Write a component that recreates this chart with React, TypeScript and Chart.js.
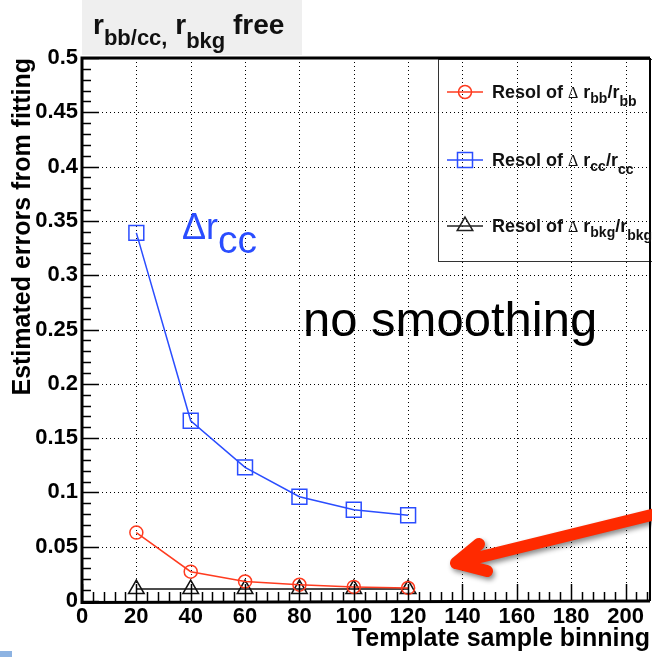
import React, { useEffect, useRef } from 'react';
import { Chart, registerables } from 'chart.js';

Chart.register(...registerables);

// ---- data ----
const binning = [20, 40, 60, 80, 100, 120];
const resolBB = [0.063, 0.027, 0.018, 0.015, 0.013, 0.012];
const resolCC = [0.339, 0.166, 0.123, 0.096, 0.084, 0.079];
const resolBkg = [0.011, 0.011, 0.011, 0.011, 0.011, 0.011];

const xTicks = [0, 20, 40, 60, 80, 100, 120, 140, 160, 180, 200];
const xMinorStep = 4;
const yTicks = [0, 0.05, 0.1, 0.15, 0.2, 0.25, 0.3, 0.35, 0.4, 0.45, 0.5];
const yTickLabels = ['0', '0.05', '0.1', '0.15', '0.2', '0.25', '0.3', '0.35', '0.4', '0.45', '0.5'];
const yMinorStep = 0.01;
const X_MIN = 0;
const X_MAX = 209;
const Y_MIN = 0;
const Y_MAX = 0.5;

const xTitle = 'Template sample binning';
const yTitle = 'Estimated errors from fitting';

const RED = '#ff3b1f';
const BLUE = '#2a4dff';
const BLACK = '#111111';
const SANS = '"Liberation Sans", Arial, Helvetica, sans-serif';

type Part = { t: string; size: number; bold?: boolean; family?: string; dy?: number };

const titleParts: Part[] = [
  { t: 'r', size: 28, bold: true },
  { t: 'bb/cc,', size: 22, bold: true, dy: 11 },
  { t: ' r', size: 28, bold: true },
  { t: 'bkg', size: 22, bold: true, dy: 14 },
  { t: ' free', size: 28, bold: true },
];

const legendEntries: { color: string; marker: string; parts: Part[] }[] = [
  {
    color: RED,
    marker: 'circle',
    parts: [
      { t: 'Resol of ', size: 18, bold: true },
      { t: 'Δ', size: 16, family: '"Liberation Serif", serif' },
      { t: ' r', size: 18, bold: true },
      { t: 'bb', size: 14, bold: true, dy: 5 },
      { t: '/r', size: 18, bold: true },
      { t: 'bb', size: 14, bold: true, dy: 8 },
    ],
  },
  {
    color: BLUE,
    marker: 'rect',
    parts: [
      { t: 'Resol of ', size: 18, bold: true },
      { t: 'Δ', size: 16, family: '"Liberation Serif", serif' },
      { t: ' r', size: 18, bold: true },
      { t: 'cc', size: 14, bold: true, dy: 5 },
      { t: '/r', size: 18, bold: true },
      { t: 'cc', size: 14, bold: true, dy: 8 },
    ],
  },
  {
    color: '#222222',
    marker: 'triangle',
    parts: [
      { t: 'Resol of ', size: 18, bold: true },
      { t: 'Δ', size: 16, family: '"Liberation Serif", serif' },
      { t: ' r', size: 18, bold: true },
      { t: 'bkg', size: 14, bold: true, dy: 5 },
      { t: '/r', size: 18, bold: true },
      { t: 'bkg', size: 14, bold: true, dy: 8 },
    ],
  },
];

const ccLabel: Part[] = [
  { t: 'Δr', size: 36 },
  { t: 'cc', size: 39, dy: 14 },
];
const noteText = 'no smoothing';

function drawRich(ctx: CanvasRenderingContext2D, parts: Part[], x: number, y: number, color: string) {
  let cx = x;
  ctx.textAlign = 'left';
  ctx.textBaseline = 'alphabetic';
  ctx.fillStyle = color;
  for (const p of parts) {
    ctx.font = `${p.bold ? 'bold ' : ''}${p.size}px ${p.family || SANS}`;
    ctx.fillText(p.t, cx, y + (p.dy || 0));
    cx += ctx.measureText(p.t).width;
  }
}

function drawMarker(ctx: CanvasRenderingContext2D, kind: string, x: number, y: number, color: string) {
  ctx.strokeStyle = color;
  ctx.lineWidth = 1.5;
  ctx.beginPath();
  if (kind === 'circle') {
    ctx.arc(x, y, 6.5, 0, Math.PI * 2);
  } else if (kind === 'rect') {
    ctx.rect(x - 7.5, y - 7.5, 15, 15);
  } else {
    const r = 9;
    ctx.moveTo(x, y - r);
    ctx.lineTo(x + r * Math.cos(Math.PI / 6), y + r / 2);
    ctx.lineTo(x - r * Math.cos(Math.PI / 6), y + r / 2);
    ctx.closePath();
  }
  ctx.stroke();
}

const decoPlugin = {
  id: 'deco',
  beforeDraw(chart: any) {
    const ctx = chart.ctx as CanvasRenderingContext2D;
    ctx.save();
    ctx.fillStyle = '#ffffff';
    ctx.fillRect(0, 0, chart.width, chart.height);
    // title box
    ctx.fillStyle = '#efefef';
    ctx.fillRect(82, 0, 220, 55);
    drawRich(ctx, titleParts, 93, 34, '#111');
    // slide decoration
    ctx.fillStyle = '#8db3e2';
    ctx.fillRect(0, 651, 12, 6);
    ctx.restore();
  },
  beforeDatasetsDraw(chart: any) {
    const ctx = chart.ctx as CanvasRenderingContext2D;
    const a = chart.chartArea;
    const x = chart.scales.x;
    const y = chart.scales.y;
    ctx.save();
    // legend box
    ctx.strokeStyle = '#333';
    ctx.lineWidth = 1;
    ctx.strokeRect(438.5, 59.5, 240, 202);
    // dotted grid
    ctx.setLineDash([1, 3]);
    ctx.strokeStyle = '#000';
    ctx.lineWidth = 1;
    ctx.beginPath();
    xTicks.forEach((v) => {
      if (v === X_MIN) return;
      const px = Math.round(x.getPixelForValue(v)) + 0.5;
      ctx.moveTo(px, a.top);
      ctx.lineTo(px, a.bottom);
    });
    yTicks.forEach((v) => {
      if (v === Y_MIN || v === Y_MAX) return;
      const py = Math.round(y.getPixelForValue(v)) + 0.5;
      ctx.moveTo(a.left, py);
      ctx.lineTo(a.right, py);
    });
    ctx.stroke();
    ctx.restore();
  },
  afterDatasetsDraw(chart: any) {
    const ctx = chart.ctx as CanvasRenderingContext2D;
    const a = chart.chartArea;
    const x = chart.scales.x;
    const y = chart.scales.y;
    ctx.save();
    // frame
    ctx.strokeStyle = '#000';
    ctx.lineWidth = 3;
    ctx.beginPath();
    ctx.moveTo(a.left, a.top);
    ctx.lineTo(a.right, a.top);
    ctx.moveTo(a.left, a.top - 1.5);
    ctx.lineTo(a.left, a.bottom + 1.5);
    ctx.lineTo(a.right, a.bottom);
    ctx.stroke();
    ctx.lineWidth = 2;
    ctx.beginPath();
    ctx.moveTo(a.right, a.top);
    ctx.lineTo(a.right, a.bottom);
    ctx.stroke();
    // inward ticks
    ctx.lineWidth = 1.5;
    ctx.beginPath();
    for (let v = X_MIN; v <= X_MAX + 1e-9; v += xMinorStep) {
      const major = Math.abs(v % 20) < 1e-9;
      const px = Math.round(x.getPixelForValue(v)) + 0.5;
      ctx.moveTo(px, a.bottom);
      ctx.lineTo(px, a.bottom - (major ? 17 : 9));
    }
    for (let i = 0; i * yMinorStep <= Y_MAX + 1e-9; i++) {
      const v = i * yMinorStep;
      const major = i % 5 === 0;
      const py = Math.round(y.getPixelForValue(v)) + 0.5;
      ctx.moveTo(a.left, py);
      ctx.lineTo(a.left + (major ? 17 : 9), py);
    }
    ctx.stroke();

    // legend entries
    const legendY = [92, 160, 226];
    legendEntries.forEach((e, i) => {
      const ly = legendY[i];
      ctx.strokeStyle = e.color;
      ctx.lineWidth = 1.5;
      ctx.setLineDash([]);
      ctx.beginPath();
      ctx.moveTo(447, ly);
      ctx.lineTo(483, ly);
      ctx.stroke();
      drawMarker(ctx, e.marker, 465, ly, e.color);
      drawRich(ctx, e.parts, 492, ly + 6, '#111');
    });

    // annotations
    drawRich(ctx, ccLabel, 182, 239, BLUE);
    ctx.font = `49px ${SANS}`;
    ctx.fillStyle = '#000';
    ctx.textAlign = 'left';
    ctx.textBaseline = 'alphabetic';
    ctx.fillText(noteText, 303, 336);

    // red arrow
    ctx.shadowColor = 'rgba(0,0,0,0.45)';
    ctx.shadowBlur = 5;
    ctx.shadowOffsetX = 2;
    ctx.shadowOffsetY = 3;
    ctx.strokeStyle = '#ff2a00';
    ctx.lineWidth = 12;
    ctx.lineCap = 'round';
    ctx.lineJoin = 'round';
    ctx.beginPath();
    ctx.moveTo(664, 512);
    ctx.lineTo(456, 563);
    ctx.moveTo(479, 544);
    ctx.lineTo(456, 563);
    ctx.lineTo(487, 571);
    ctx.stroke();
    ctx.restore();
  },
};

function mkData(ys: number[]) {
  return binning.map((b, i) => ({ x: b, y: ys[i] }));
}

export default function App() {
  const ref = useRef<HTMLCanvasElement | null>(null);
  useEffect(() => {
    if (!ref.current) return;
    const chart = new Chart(ref.current, {
      type: 'line',
      data: {
        datasets: [
          {
            label: 'Resol of Δ r_bb/r_bb',
            data: mkData(resolBB),
            borderColor: RED,
            borderWidth: 1.5,
            pointStyle: 'circle',
            pointRadius: 6.5,
            pointBorderWidth: 1.5,
            pointBorderColor: RED,
            pointBackgroundColor: 'rgba(0,0,0,0)',
            tension: 0,
            clip: false as any,
          },
          {
            label: 'Resol of Δ r_cc/r_cc',
            data: mkData(resolCC),
            borderColor: BLUE,
            borderWidth: 1.5,
            pointStyle: 'rect',
            pointRadius: 10.5,
            pointBorderWidth: 1.5,
            pointBorderColor: BLUE,
            pointBackgroundColor: 'rgba(0,0,0,0)',
            tension: 0,
            clip: false as any,
          },
          {
            label: 'Resol of Δ r_bkg/r_bkg',
            data: mkData(resolBkg),
            borderColor: BLACK,
            borderWidth: 1.5,
            pointStyle: 'triangle',
            pointRadius: 9,
            pointBorderWidth: 1.5,
            pointBorderColor: BLACK,
            pointBackgroundColor: 'rgba(0,0,0,0)',
            tension: 0,
            clip: false as any,
          },
        ],
      },
      options: {
        animation: false,
        responsive: false,
        maintainAspectRatio: false,
        devicePixelRatio: 1,
        layout: { autoPadding: false, padding: { top: 58, right: 2, left: 0, bottom: 0 } },
        plugins: {
          legend: { display: false },
          tooltip: { enabled: false },
          title: { display: false },
        },
        scales: {
          x: {
            type: 'linear',
            min: X_MIN,
            max: X_MAX,
            grid: { display: false, drawTicks: false },
            border: { display: false },
            afterBuildTicks: (s: any) => {
              s.ticks = xTicks.map((v) => ({ value: v }));
            },
            afterFit: (s: any) => {
              s.height = 56;
              s.paddingLeft = 0;
              s.paddingRight = 0;
            },
            ticks: {
              autoSkip: false,
              maxRotation: 0,
              padding: 3,
              color: '#000',
              font: { family: SANS, size: 22, weight: 'bold' },
              callback: (v: any) => String(v),
            },
            title: {
              display: true,
              text: xTitle,
              align: 'end',
              color: '#000',
              font: { family: SANS, size: 25, weight: 'bold' },
              padding: { top: 0, bottom: 3 },
            },
          },
          y: {
            type: 'linear',
            min: Y_MIN,
            max: Y_MAX,
            grid: { display: false, drawTicks: false },
            border: { display: false },
            afterBuildTicks: (s: any) => {
              s.ticks = yTicks.map((v) => ({ value: v }));
            },
            afterFit: (s: any) => {
              s.width = 82;
              s.paddingTop = 0;
              s.paddingBottom = 0;
            },
            ticks: {
              autoSkip: false,
              padding: 4,
              color: '#000',
              font: { family: SANS, size: 22, weight: 'bold' },
              callback: (_v: any, i: number) => yTickLabels[i],
            },
            title: {
              display: true,
              text: yTitle,
              align: 'end',
              color: '#000',
              font: { family: SANS, size: 25, weight: 'bold' },
              padding: { top: 8, bottom: 0 },
            },
          },
        },
      },
      plugins: [decoPlugin],
    } as any);
    return () => chart.destroy();
  }, []);

  return (
    <div style={{ position: 'fixed', left: 0, top: 0, width: 652, height: 657, background: '#fff' }}>
      <canvas ref={ref} width={652} height={657} style={{ display: 'block', width: 652, height: 657 }} />
    </div>
  );
}
